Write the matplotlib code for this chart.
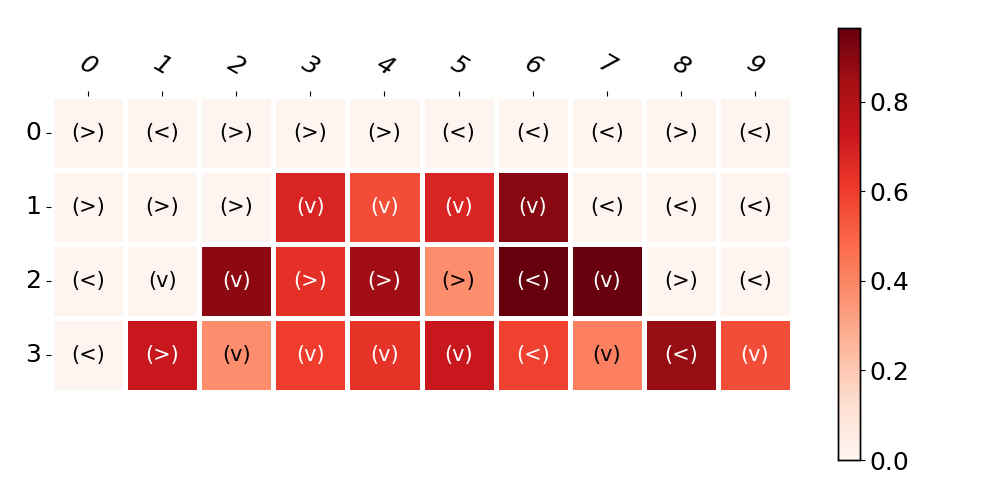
import numpy as np
import matplotlib
matplotlib.use("Agg")
import matplotlib.pyplot as plt
import seaborn as sns

rows = ["0", "1", "2", "3"]
cols = ["0", "1", "2", "3", "4", "5", "6", "7", "8", "9"]

# cell values
values = np.array([
    [0.00, 0.00, 0.00, 0.00, 0.00, 0.00, 0.00, 0.00, 0.00, 0.00],
    [0.00, 0.00, 0.00, 0.68, 0.56, 0.68, 0.90, 0.00, 0.00, 0.00],
    [0.00, 0.00, 0.89, 0.64, 0.85, 0.38, 0.965, 0.96, 0.00, 0.00],
    [0.00, 0.73, 0.38, 0.60, 0.63, 0.73, 0.59, 0.42, 0.87, 0.56],
])

# arrow labels per cell
labels = np.array([
    ["(>)", "(<)", "(>)", "(>)", "(>)", "(<)", "(<)", "(<)", "(>)", "(<)"],
    ["(>)", "(>)", "(>)", "(v)", "(v)", "(v)", "(v)", "(<)", "(<)", "(<)"],
    ["(<)", "(v)", "(v)", "(>)", "(>)", "(>)", "(<)", "(v)", "(>)", "(<)"],
    ["(<)", "(>)", "(v)", "(v)", "(v)", "(v)", "(<)", "(v)", "(<)", "(v)"],
])

fig = plt.figure(figsize=(10, 5), dpi=100)
ax = fig.add_axes([0.051, 0.216, 0.741, 0.592])
cax = fig.add_axes([0.838, 0.08, 0.022, 0.864])

sns.heatmap(values, ax=ax, cbar_ax=cax, cmap="Reds", vmin=0, vmax=0.965,
            annot=False, linewidths=2.5, linecolor="white",
            xticklabels=cols, yticklabels=rows)

# labels: white on dark cells, black on light ones
for i in range(values.shape[0]):
    for j in range(values.shape[1]):
        c = "white" if values[i, j] > 0.5 else "black"
        ax.text(j + 0.5, i + 0.5, labels[i, j], ha="center", va="center",
                fontsize=15, color=c)

ax.set_aspect("auto")
ax.xaxis.tick_top()
ax.tick_params(axis="x", labelsize=18, pad=8)
ax.tick_params(axis="y", labelsize=18, rotation=0)
for t in ax.get_xticklabels():
    t.set_rotation(-30)
    t.set_style("italic")
    t.set_ha("center")

cax.tick_params(labelsize=18)
cax.set_yticks([0.0, 0.2, 0.4, 0.6, 0.8])
for s in cax.spines.values():
    s.set_visible(True)
    s.set_linewidth(1)

fig.savefig("out.png", dpi=100)
